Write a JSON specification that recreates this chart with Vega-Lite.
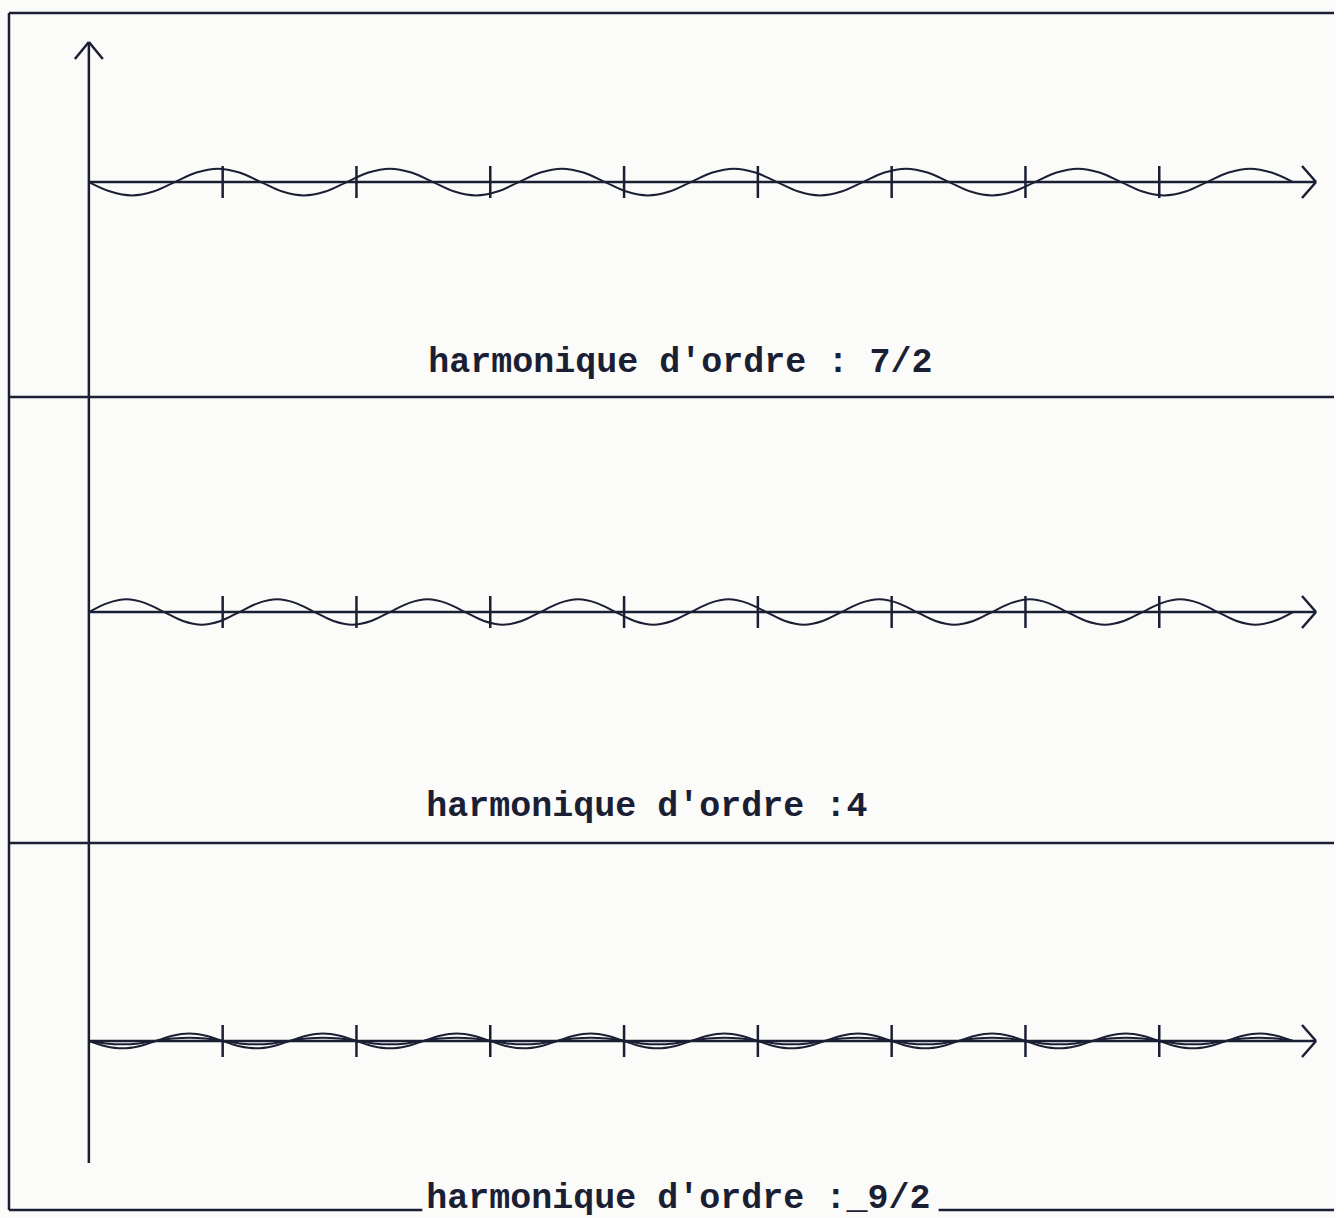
{
"$schema": "https://vega.github.io/schema/vega-lite/v6.json",
"width": 1336, "height": 1218,
"autosize": {"type": "fit", "contains": "padding"},
"padding": 0,
"background": "#fbfbf9",
"config": {"view": {"stroke": null}},
"datasets": {
"segs": [
{"x": -0.597, "x2": 9.306, "y": 8.9925, "y2": 8.9925},
{"x": -0.597, "x2": -0.597, "y": 0.0597, "y2": 8.9925},
{"x": -0.597, "x2": 2.4925, "y": 0.0597, "y2": 0.0597},
{"x": 6.3507, "x2": 9.306, "y": 0.0597, "y2": 0.0597},
{"x": -0.597, "x2": 9.306, "y": 6.1269, "y2": 6.1269},
{"x": -0.597, "x2": 9.306, "y": 2.7985, "y2": 2.7985},
{"x": 0, "x2": 0, "y": 0.4104, "y2": 8.7761},
{"x": -0.1045, "x2": 0, "y": 8.6493, "y2": 8.7761},
{"x": 0.1045, "x2": 0, "y": 8.6493, "y2": 8.7761},
{"x": 0, "x2": 9.1716, "y": 7.7313, "y2": 7.7313},
{"x": 9.067, "x2": 9.1716, "y": 7.8507, "y2": 7.7313},
{"x": 9.067, "x2": 9.1716, "y": 7.6119, "y2": 7.7313},
{"x": 0, "x2": 9.1716, "y": 4.5224, "y2": 4.5224},
{"x": 9.067, "x2": 9.1716, "y": 4.6418, "y2": 4.5224},
{"x": 9.067, "x2": 9.1716, "y": 4.403, "y2": 4.5224},
{"x": 0, "x2": 9.1716, "y": 1.3209, "y2": 1.3209},
{"x": 9.067, "x2": 9.1716, "y": 1.4403, "y2": 1.3209},
{"x": 9.067, "x2": 9.1716, "y": 1.2015, "y2": 1.3209},
{"x": 1, "x2": 1, "y": 7.6119, "y2": 7.8507},
{"x": 2, "x2": 2, "y": 7.6119, "y2": 7.8507},
{"x": 3, "x2": 3, "y": 7.6119, "y2": 7.8507},
{"x": 4, "x2": 4, "y": 7.6119, "y2": 7.8507},
{"x": 5, "x2": 5, "y": 7.6119, "y2": 7.8507},
{"x": 6, "x2": 6, "y": 7.6119, "y2": 7.8507},
{"x": 7, "x2": 7, "y": 7.6119, "y2": 7.8507},
{"x": 8, "x2": 8, "y": 7.6119, "y2": 7.8507},
{"x": 1, "x2": 1, "y": 4.403, "y2": 4.6418},
{"x": 2, "x2": 2, "y": 4.403, "y2": 4.6418},
{"x": 3, "x2": 3, "y": 4.403, "y2": 4.6418},
{"x": 4, "x2": 4, "y": 4.403, "y2": 4.6418},
{"x": 5, "x2": 5, "y": 4.403, "y2": 4.6418},
{"x": 6, "x2": 6, "y": 4.403, "y2": 4.6418},
{"x": 7, "x2": 7, "y": 4.403, "y2": 4.6418},
{"x": 8, "x2": 8, "y": 4.403, "y2": 4.6418},
{"x": 1, "x2": 1, "y": 1.2015, "y2": 1.4403},
{"x": 2, "x2": 2, "y": 1.2015, "y2": 1.4403},
{"x": 3, "x2": 3, "y": 1.2015, "y2": 1.4403},
{"x": 4, "x2": 4, "y": 1.2015, "y2": 1.4403},
{"x": 5, "x2": 5, "y": 1.2015, "y2": 1.4403},
{"x": 6, "x2": 6, "y": 1.2015, "y2": 1.4403},
{"x": 7, "x2": 7, "y": 1.2015, "y2": 1.4403},
{"x": 8, "x2": 8, "y": 1.2015, "y2": 1.4403}
],
"labels": [
{"t": "harmonique d'ordre : 7/2", "x": 2.537, "y": 6.3134},
{"t": "harmonique d'ordre :4", "x": 2.522, "y": 3.0},
{"t": "harmonique d'ordre :_9/2", "x": 2.522, "y": 0.0746}
],
"waves": [
{"s":"h72","x":0,"y":7.731},{"s":"h72","x":0.1607,"y":7.660},{"s":"h72","x":0.3214,"y":7.631},{"s":"h72","x":0.4821,"y":7.660},
{"s":"h72","x":0.6429,"y":7.731},{"s":"h72","x":0.8036,"y":7.802},{"s":"h72","x":0.9643,"y":7.831},{"s":"h72","x":1.125,"y":7.802},
{"s":"h72","x":1.2857,"y":7.731},{"s":"h72","x":1.4464,"y":7.660},{"s":"h72","x":1.6071,"y":7.631},{"s":"h72","x":1.7679,"y":7.660},
{"s":"h72","x":1.9286,"y":7.731},{"s":"h72","x":2.0893,"y":7.802},{"s":"h72","x":2.25,"y":7.831},{"s":"h72","x":2.4107,"y":7.802},
{"s":"h72","x":2.5714,"y":7.731},{"s":"h72","x":2.7321,"y":7.660},{"s":"h72","x":2.8929,"y":7.631},{"s":"h72","x":3.0536,"y":7.660},
{"s":"h72","x":3.2143,"y":7.731},{"s":"h72","x":3.375,"y":7.802},{"s":"h72","x":3.5357,"y":7.831},{"s":"h72","x":3.6964,"y":7.802},
{"s":"h72","x":3.8571,"y":7.731},{"s":"h72","x":4.0179,"y":7.660},{"s":"h72","x":4.1786,"y":7.631},{"s":"h72","x":4.3393,"y":7.660},
{"s":"h72","x":4.5,"y":7.731},{"s":"h72","x":4.6607,"y":7.802},{"s":"h72","x":4.8214,"y":7.831},{"s":"h72","x":4.9821,"y":7.802},
{"s":"h72","x":5.1429,"y":7.731},{"s":"h72","x":5.3036,"y":7.660},{"s":"h72","x":5.4643,"y":7.631},{"s":"h72","x":5.625,"y":7.660},
{"s":"h72","x":5.7857,"y":7.731},{"s":"h72","x":5.9464,"y":7.802},{"s":"h72","x":6.1071,"y":7.831},{"s":"h72","x":6.2679,"y":7.802},
{"s":"h72","x":6.4286,"y":7.731},{"s":"h72","x":6.5893,"y":7.660},{"s":"h72","x":6.75,"y":7.631},{"s":"h72","x":6.9107,"y":7.660},
{"s":"h72","x":7.0714,"y":7.731},{"s":"h72","x":7.2321,"y":7.802},{"s":"h72","x":7.3929,"y":7.831},{"s":"h72","x":7.5536,"y":7.802},
{"s":"h72","x":7.7143,"y":7.731},{"s":"h72","x":7.875,"y":7.660},{"s":"h72","x":8.0357,"y":7.631},{"s":"h72","x":8.1964,"y":7.660},
{"s":"h72","x":8.3571,"y":7.731},{"s":"h72","x":8.5179,"y":7.802},{"s":"h72","x":8.6786,"y":7.831},{"s":"h72","x":8.8393,"y":7.802},
{"s":"h72","x":9.0,"y":7.731},
{"s":"h4","x":0,"y":4.522},{"s":"h4","x":0.1406,"y":4.589},{"s":"h4","x":0.2813,"y":4.617},{"s":"h4","x":0.4219,"y":4.589},
{"s":"h4","x":0.5625,"y":4.522},{"s":"h4","x":0.7031,"y":4.455},{"s":"h4","x":0.8438,"y":4.427},{"s":"h4","x":0.9844,"y":4.455},
{"s":"h4","x":1.125,"y":4.522},{"s":"h4","x":1.2656,"y":4.589},{"s":"h4","x":1.4063,"y":4.617},{"s":"h4","x":1.5469,"y":4.589},
{"s":"h4","x":1.6875,"y":4.522},{"s":"h4","x":1.8281,"y":4.455},{"s":"h4","x":1.9688,"y":4.427},{"s":"h4","x":2.1094,"y":4.455},
{"s":"h4","x":2.25,"y":4.522},{"s":"h4","x":2.3906,"y":4.589},{"s":"h4","x":2.5313,"y":4.617},{"s":"h4","x":2.6719,"y":4.589},
{"s":"h4","x":2.8125,"y":4.522},{"s":"h4","x":2.9531,"y":4.455},{"s":"h4","x":3.0938,"y":4.427},{"s":"h4","x":3.2344,"y":4.455},
{"s":"h4","x":3.375,"y":4.522},{"s":"h4","x":3.5156,"y":4.589},{"s":"h4","x":3.6563,"y":4.617},{"s":"h4","x":3.7969,"y":4.589},
{"s":"h4","x":3.9375,"y":4.522},{"s":"h4","x":4.0781,"y":4.455},{"s":"h4","x":4.2188,"y":4.427},{"s":"h4","x":4.3594,"y":4.455},
{"s":"h4","x":4.5,"y":4.522},{"s":"h4","x":4.6406,"y":4.589},{"s":"h4","x":4.7813,"y":4.617},{"s":"h4","x":4.9219,"y":4.589},
{"s":"h4","x":5.0625,"y":4.522},{"s":"h4","x":5.2031,"y":4.455},{"s":"h4","x":5.3438,"y":4.427},{"s":"h4","x":5.4844,"y":4.455},
{"s":"h4","x":5.625,"y":4.522},{"s":"h4","x":5.7656,"y":4.589},{"s":"h4","x":5.9063,"y":4.617},{"s":"h4","x":6.0469,"y":4.589},
{"s":"h4","x":6.1875,"y":4.522},{"s":"h4","x":6.3281,"y":4.455},{"s":"h4","x":6.4688,"y":4.427},{"s":"h4","x":6.6094,"y":4.455},
{"s":"h4","x":6.75,"y":4.522},{"s":"h4","x":6.8906,"y":4.589},{"s":"h4","x":7.0313,"y":4.617},{"s":"h4","x":7.1719,"y":4.589},
{"s":"h4","x":7.3125,"y":4.522},{"s":"h4","x":7.4531,"y":4.455},{"s":"h4","x":7.5938,"y":4.427},{"s":"h4","x":7.7344,"y":4.455},
{"s":"h4","x":7.875,"y":4.522},{"s":"h4","x":8.0156,"y":4.589},{"s":"h4","x":8.1563,"y":4.617},{"s":"h4","x":8.2969,"y":4.589},
{"s":"h4","x":8.4375,"y":4.522},{"s":"h4","x":8.5781,"y":4.455},{"s":"h4","x":8.7188,"y":4.427},{"s":"h4","x":8.8594,"y":4.455},
{"s":"h4","x":9.0,"y":4.522},
{"s":"h92a","x":0,"y":1.321},{"s":"h92a","x":0.125,"y":1.282},{"s":"h92a","x":0.25,"y":1.266},{"s":"h92a","x":0.375,"y":1.282},
{"s":"h92a","x":0.5,"y":1.321},{"s":"h92a","x":0.625,"y":1.360},{"s":"h92a","x":0.75,"y":1.376},{"s":"h92a","x":0.875,"y":1.360},
{"s":"h92a","x":1,"y":1.321},{"s":"h92a","x":1.125,"y":1.282},{"s":"h92a","x":1.25,"y":1.266},{"s":"h92a","x":1.375,"y":1.282},
{"s":"h92a","x":1.5,"y":1.321},{"s":"h92a","x":1.625,"y":1.360},{"s":"h92a","x":1.75,"y":1.376},{"s":"h92a","x":1.875,"y":1.360},
{"s":"h92a","x":2,"y":1.321},{"s":"h92a","x":2.125,"y":1.282},{"s":"h92a","x":2.25,"y":1.266},{"s":"h92a","x":2.375,"y":1.282},
{"s":"h92a","x":2.5,"y":1.321},{"s":"h92a","x":2.625,"y":1.360},{"s":"h92a","x":2.75,"y":1.376},{"s":"h92a","x":2.875,"y":1.360},
{"s":"h92a","x":3,"y":1.321},{"s":"h92a","x":3.125,"y":1.282},{"s":"h92a","x":3.25,"y":1.266},{"s":"h92a","x":3.375,"y":1.282},
{"s":"h92a","x":3.5,"y":1.321},{"s":"h92a","x":3.625,"y":1.360},{"s":"h92a","x":3.75,"y":1.376},{"s":"h92a","x":3.875,"y":1.360},
{"s":"h92a","x":4,"y":1.321},{"s":"h92a","x":4.125,"y":1.282},{"s":"h92a","x":4.25,"y":1.266},{"s":"h92a","x":4.375,"y":1.282},
{"s":"h92a","x":4.5,"y":1.321},{"s":"h92a","x":4.625,"y":1.360},{"s":"h92a","x":4.75,"y":1.376},{"s":"h92a","x":4.875,"y":1.360},
{"s":"h92a","x":5,"y":1.321},{"s":"h92a","x":5.125,"y":1.282},{"s":"h92a","x":5.25,"y":1.266},{"s":"h92a","x":5.375,"y":1.282},
{"s":"h92a","x":5.5,"y":1.321},{"s":"h92a","x":5.625,"y":1.360},{"s":"h92a","x":5.75,"y":1.376},{"s":"h92a","x":5.875,"y":1.360},
{"s":"h92a","x":6,"y":1.321},{"s":"h92a","x":6.125,"y":1.282},{"s":"h92a","x":6.25,"y":1.266},{"s":"h92a","x":6.375,"y":1.282},
{"s":"h92a","x":6.5,"y":1.321},{"s":"h92a","x":6.625,"y":1.360},{"s":"h92a","x":6.75,"y":1.376},{"s":"h92a","x":6.875,"y":1.360},
{"s":"h92a","x":7,"y":1.321},{"s":"h92a","x":7.125,"y":1.282},{"s":"h92a","x":7.25,"y":1.266},{"s":"h92a","x":7.375,"y":1.282},
{"s":"h92a","x":7.5,"y":1.321},{"s":"h92a","x":7.625,"y":1.360},{"s":"h92a","x":7.75,"y":1.376},{"s":"h92a","x":7.875,"y":1.360},
{"s":"h92a","x":8,"y":1.321},{"s":"h92a","x":8.125,"y":1.282},{"s":"h92a","x":8.25,"y":1.266},{"s":"h92a","x":8.375,"y":1.282},
{"s":"h92a","x":8.5,"y":1.321},{"s":"h92a","x":8.625,"y":1.360},{"s":"h92a","x":8.75,"y":1.376},{"s":"h92a","x":8.875,"y":1.360},
{"s":"h92a","x":9,"y":1.321},
{"s":"h92b","x":0,"y":1.321},{"s":"h92b","x":0.125,"y":1.303},{"s":"h92b","x":0.25,"y":1.296},{"s":"h92b","x":0.375,"y":1.303},
{"s":"h92b","x":0.5,"y":1.321},{"s":"h92b","x":0.625,"y":1.339},{"s":"h92b","x":0.75,"y":1.346},{"s":"h92b","x":0.875,"y":1.339},
{"s":"h92b","x":1,"y":1.321},{"s":"h92b","x":1.125,"y":1.303},{"s":"h92b","x":1.25,"y":1.296},{"s":"h92b","x":1.375,"y":1.303},
{"s":"h92b","x":1.5,"y":1.321},{"s":"h92b","x":1.625,"y":1.339},{"s":"h92b","x":1.75,"y":1.346},{"s":"h92b","x":1.875,"y":1.339},
{"s":"h92b","x":2,"y":1.321},{"s":"h92b","x":2.125,"y":1.303},{"s":"h92b","x":2.25,"y":1.296},{"s":"h92b","x":2.375,"y":1.303},
{"s":"h92b","x":2.5,"y":1.321},{"s":"h92b","x":2.625,"y":1.339},{"s":"h92b","x":2.75,"y":1.346},{"s":"h92b","x":2.875,"y":1.339},
{"s":"h92b","x":3,"y":1.321},{"s":"h92b","x":3.125,"y":1.303},{"s":"h92b","x":3.25,"y":1.296},{"s":"h92b","x":3.375,"y":1.303},
{"s":"h92b","x":3.5,"y":1.321},{"s":"h92b","x":3.625,"y":1.339},{"s":"h92b","x":3.75,"y":1.346},{"s":"h92b","x":3.875,"y":1.339},
{"s":"h92b","x":4,"y":1.321},{"s":"h92b","x":4.125,"y":1.303},{"s":"h92b","x":4.25,"y":1.296},{"s":"h92b","x":4.375,"y":1.303},
{"s":"h92b","x":4.5,"y":1.321},{"s":"h92b","x":4.625,"y":1.339},{"s":"h92b","x":4.75,"y":1.346},{"s":"h92b","x":4.875,"y":1.339},
{"s":"h92b","x":5,"y":1.321},{"s":"h92b","x":5.125,"y":1.303},{"s":"h92b","x":5.25,"y":1.296},{"s":"h92b","x":5.375,"y":1.303},
{"s":"h92b","x":5.5,"y":1.321},{"s":"h92b","x":5.625,"y":1.339},{"s":"h92b","x":5.75,"y":1.346},{"s":"h92b","x":5.875,"y":1.339},
{"s":"h92b","x":6,"y":1.321},{"s":"h92b","x":6.125,"y":1.303},{"s":"h92b","x":6.25,"y":1.296},{"s":"h92b","x":6.375,"y":1.303},
{"s":"h92b","x":6.5,"y":1.321},{"s":"h92b","x":6.625,"y":1.339},{"s":"h92b","x":6.75,"y":1.346},{"s":"h92b","x":6.875,"y":1.339},
{"s":"h92b","x":7,"y":1.321},{"s":"h92b","x":7.125,"y":1.303},{"s":"h92b","x":7.25,"y":1.296},{"s":"h92b","x":7.375,"y":1.303},
{"s":"h92b","x":7.5,"y":1.321},{"s":"h92b","x":7.625,"y":1.339},{"s":"h92b","x":7.75,"y":1.346},{"s":"h92b","x":7.875,"y":1.339},
{"s":"h92b","x":8,"y":1.321},{"s":"h92b","x":8.125,"y":1.303},{"s":"h92b","x":8.25,"y":1.296},{"s":"h92b","x":8.375,"y":1.303},
{"s":"h92b","x":8.5,"y":1.321},{"s":"h92b","x":8.625,"y":1.339},{"s":"h92b","x":8.75,"y":1.346},{"s":"h92b","x":8.875,"y":1.339},
{"s":"h92b","x":9,"y":1.321}
]
},
"layer": [
{
"data": {"name": "segs"},
"mark": {"type": "rule", "stroke": "#1b1f33", "strokeWidth": 2.5},
"encoding": {
"x": {"field": "x", "type": "quantitative", "scale": {"domain": [-0.66418, 9.30597], "nice": false, "zero": false}, "axis": null},
"x2": {"field": "x2"},
"y": {"field": "y", "type": "quantitative", "scale": {"domain": [0, 9.08955], "nice": false, "zero": false}, "axis": null},
"y2": {"field": "y2"}
}
},
{
"data": {"name": "waves"},
"mark": {"type": "line", "interpolate": "monotone", "stroke": "#1b1f33", "strokeWidth": 2},
"encoding": {
"x": {"field": "x", "type": "quantitative", "scale": {"domain": [-0.66418, 9.30597], "nice": false, "zero": false}, "axis": null},
"y": {"field": "y", "type": "quantitative", "scale": {"domain": [0, 9.08955], "nice": false, "zero": false}, "axis": null},
"detail": {"field": "s", "type": "nominal"}
}
},
{
"data": {"name": "labels"},
"mark": {"type": "text", "align": "left", "baseline": "alphabetic", "font": "Liberation Mono", "fontWeight": "bold", "fontSize": 35, "fill": "#1b1f33"},
"encoding": {
"x": {"field": "x", "type": "quantitative", "scale": {"domain": [-0.66418, 9.30597], "nice": false, "zero": false}, "axis": null},
"y": {"field": "y", "type": "quantitative", "scale": {"domain": [0, 9.08955], "nice": false, "zero": false}, "axis": null},
"text": {"field": "t", "type": "nominal"}
}
}
]
}
